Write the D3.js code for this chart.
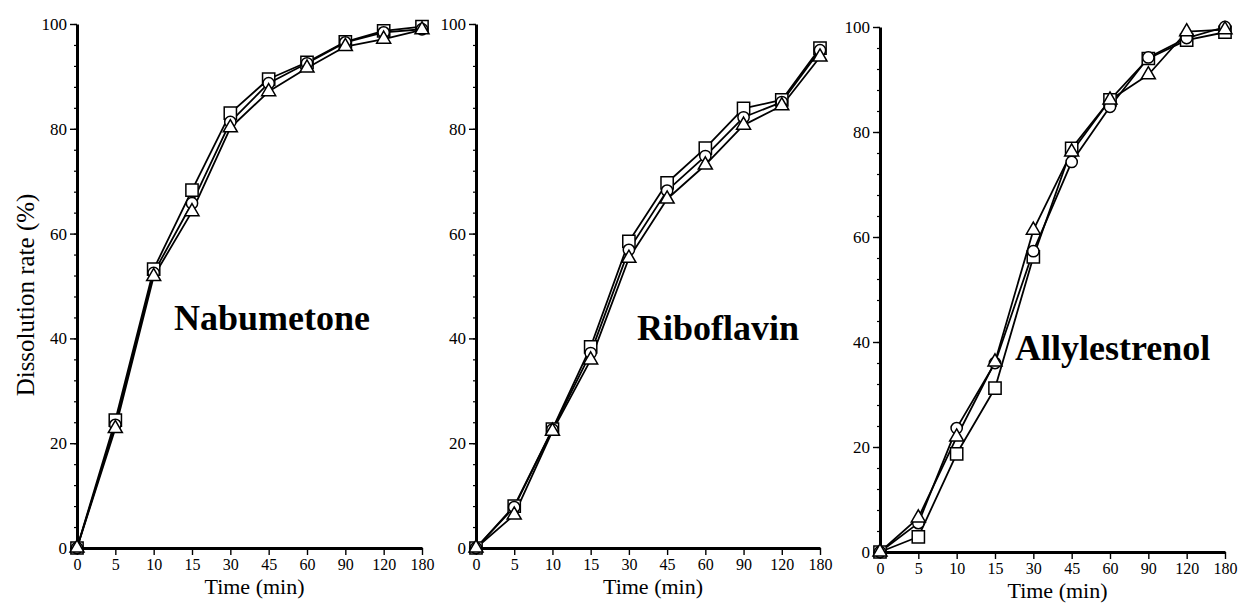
<!DOCTYPE html>
<html>
<head>
<meta charset="utf-8">
<script src="https://cdn.jsdelivr.net/npm/d3@7"></script>
<style>
  html, body { margin: 0; padding: 0; background: #fff; }
  svg { display: block; }
  text { font-family: "Liberation Serif", "Times New Roman", serif; fill: #000; }
</style>
</head>
<body>
<svg id="chart" width="1239" height="614"></svg>
<script>
// Sampling times (min), shown as evenly spaced categories
const timePoints = ["0", "5", "10", "15", "30", "45", "60", "90", "120", "180"];
const yTicks = [0, 20, 40, 60, 80, 100];

// Dissolution rate (%) — Nabumetone
const nabSquare   = [0, 24.4, 53.2, 68.3, 83.0, 89.5, 92.7, 96.6, 98.7, 99.5];
const nabCircle   = [0, 23.5, 52.5, 65.8, 81.3, 88.7, 92.5, 96.5, 98.4, 99.0];
const nabTriangle = [0, 22.8, 51.8, 64.2, 80.2, 87.1, 91.6, 95.7, 97.1, 98.9];

// Dissolution rate (%) — Riboflavin
const ribSquare   = [0, 8.0, 22.7, 38.4, 58.5, 69.7, 76.3, 83.9, 85.5, 95.4];
const ribCircle   = [0, 7.8, 22.6, 37.2, 56.9, 68.2, 74.8, 82.2, 85.1, 95.0];
const ribTriangle = [0, 6.3, 22.3, 35.9, 55.3, 66.6, 73.1, 80.7, 84.4, 93.7];

// Dissolution rate (%) — Allylestrenol
const allSquare   = [0, 2.9, 18.7, 31.2, 56.2, 76.9, 86.1, 94.0, 97.5, 99.0];
const allCircle   = [0, 5.5, 23.6, 36.0, 57.3, 74.3, 84.8, 94.2, 97.9, 100];
const allTriangle = [0, 6.5, 21.9, 36.2, 61.3, 76.2, 86.1, 90.9, 99.1, 99.5];

const panelNames = ["Nabumetone", "Riboflavin", "Allylestrenol"];

const svg = d3.select("#chart");

const panels = [
  { name: panelNames[0], series: [nabSquare, nabCircle, nabTriangle],
    x0: 77, x1: 422, y0: 548, y1: 24, label: [174, 330], yTitle: true },
  { name: panelNames[1], series: [ribSquare, ribCircle, ribTriangle],
    x0: 476, x1: 820, y0: 548, y1: 24, label: [637, 340], yTitle: false },
  { name: panelNames[2], series: [allSquare, allCircle, allTriangle],
    x0: 880, x1: 1225, y0: 552, y1: 27, label: [1015, 360], yTitle: false }
];

const markers = [
  d3.symbol().type(d3.symbolSquare).size(150),
  d3.symbol().type(d3.symbolCircle).size(100),
  d3.symbol().type(d3.symbolTriangle).size(85)
];

panels.forEach(p => {
  const g = svg.append("g");
  const x = d3.scalePoint().domain(timePoints).range([p.x0, p.x1]).padding(0);
  const y = d3.scaleLinear().domain([0, 100]).range([p.y0, p.y1]);

  // minor ticks on the value axis, every 4 %
  g.append("g")
    .attr("transform", `translate(${p.x0},0)`)
    .call(d3.axisLeft(y).tickValues(d3.range(0, 101, 4)).tickSize(3).tickFormat(""))
    .call(a => a.select(".domain").remove())
    .call(a => a.selectAll("line").attr("stroke", "#000").attr("stroke-width", 1.2));

  // value axis
  g.append("g")
    .attr("transform", `translate(${p.x0},0)`)
    .call(d3.axisLeft(y).tickValues(yTicks).tickSize(7).tickPadding(3).tickSizeOuter(0))
    .call(a => a.select(".domain").attr("stroke", "#000").attr("stroke-width", 3))
    .call(a => a.selectAll(".tick line").attr("stroke", "#000").attr("stroke-width", 1.4))
    .call(a => a.selectAll("text").style("font-size", "17px")
      .style("font-family", "'Liberation Serif', serif").attr("fill", "#000"));

  // time axis
  g.append("g")
    .attr("transform", `translate(0,${p.y0})`)
    .call(d3.axisBottom(x).tickSize(7).tickPadding(4).tickSizeOuter(0))
    .call(a => a.select(".domain").attr("stroke", "#000").attr("stroke-width", 3))
    .call(a => a.selectAll(".tick line").attr("stroke", "#000").attr("stroke-width", 1.4))
    .call(a => a.selectAll("text").style("font-size", "16px")
      .style("font-family", "'Liberation Serif', serif").attr("fill", "#000"));

  g.append("text")
    .attr("x", (p.x0 + p.x1) / 2 + 5)
    .attr("y", p.y0 + 46)
    .attr("text-anchor", "middle")
    .style("font-size", "22px")
    .text("Time (min)");

  if (p.yTitle) {
    g.append("text")
      .attr("transform", `translate(34,295) rotate(-90)`)
      .attr("text-anchor", "middle")
      .style("font-size", "25px")
      .text("Dissolution rate (%)");
  }

  const line = d3.line().x((d, i) => x(timePoints[i])).y(d => y(d));

  p.series.forEach(vals => {
    g.append("path")
      .datum(vals)
      .attr("d", line)
      .attr("fill", "none")
      .attr("stroke", "#000")
      .attr("stroke-width", 1.8)
      .attr("stroke-linejoin", "round");
  });

  p.series.forEach((vals, k) => {
    g.selectAll(null)
      .data(vals)
      .join("path")
      .attr("transform", (d, i) => `translate(${x(timePoints[i])},${y(d)})`)
      .attr("d", markers[k]())
      .attr("fill", "#fff")
      .attr("stroke", "#000")
      .attr("stroke-width", 1.5);
  });

  g.append("text")
    .attr("x", p.label[0])
    .attr("y", p.label[1])
    .style("font-size", "36px")
    .style("font-weight", "bold")
    .text(p.name);
});
</script>
</body>
</html>
